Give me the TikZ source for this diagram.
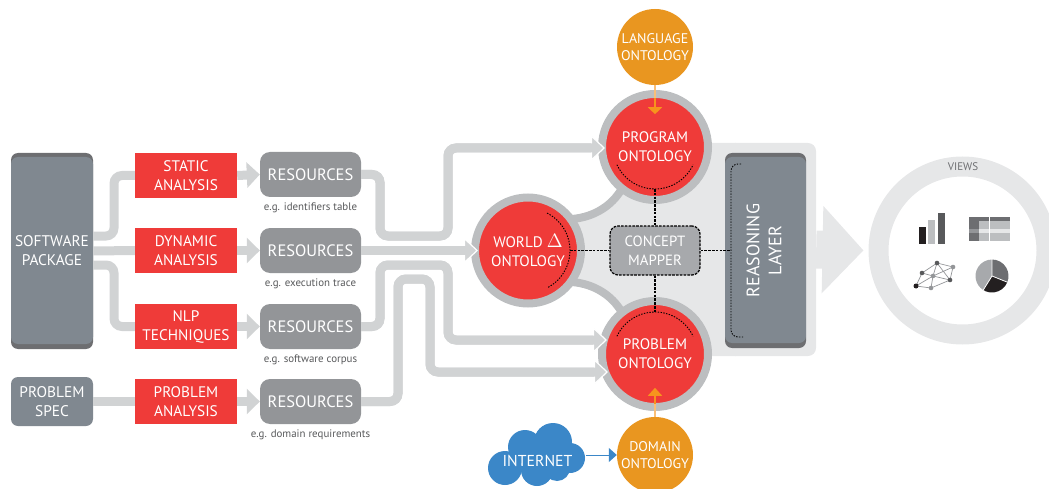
\documentclass[tikz,border=0pt]{standalone}
\usepackage{fontspec}
\setmainfont{PT Sans}
\usetikzlibrary{arrows.meta,positioning,calc}

\definecolor{redbox}{HTML}{EF3B39}
\definecolor{slate}{HTML}{808890}
\definecolor{slatedark}{HTML}{6D6E71}
\definecolor{resgray}{HTML}{939598}
\definecolor{pipegray}{HTML}{D1D3D4}
\definecolor{ringgray}{HTML}{BCBEC0}
\definecolor{palegray}{HTML}{E6E7E8}
\definecolor{mappergray}{HTML}{A7A9AC}
\definecolor{orangeball}{HTML}{E99620}
\definecolor{orangetip}{HTML}{F7941D}
\definecolor{cloudblue}{HTML}{3B87C8}
\definecolor{inkgray}{HTML}{58595B}
\definecolor{inkdark}{HTML}{231F20}

\tikzset{
    boxtext/.style={text=white, align=center, inner sep=0pt, font=\fontsize{15.3}{19}\selectfont},
    method/.style={boxtext, rectangle, fill=redbox, minimum width=102pt, minimum height=45pt},
    resource/.style={boxtext, rectangle, fill=resgray, rounded corners=10pt, minimum width=101pt, minimum height=45pt, font=\fontsize{16.5}{19}\selectfont},
    caption/.style={text=inkgray, inner sep=0pt, font=\fontsize{10.9}{12}\selectfont},
    slab/.style={boxtext, rectangle, fill=slatedark, rounded corners=7pt, inner sep=0pt,
        path picture={\fill[slate, rounded corners=7pt] ($(path picture bounding box.north west)+(0,4)$) rectangle ($(path picture bounding box.south east)+(0,-5)$);}},
    ontology/.style={boxtext, circle, fill=redbox, draw=ringgray, line width=8pt, minimum size=106pt, font=\fontsize{15.2}{19}\selectfont},
    ball/.style={boxtext, circle, fill=orangeball, minimum size=76pt, font=\fontsize{14}{16.5}\selectfont},
    pipe/.style={draw=pipegray, line width=9pt, rounded corners=8pt},
    pipearrow/.style={pipe, -{Triangle[length=14pt, width=26pt, color=white, fill=pipegray, line width=1.2pt]},
        postaction={draw=pipegray, -, shorten >=12pt}},
    smallpipe/.style={pipe, -{Triangle[length=13pt, width=25pt, color=pipegray]}},
    ringarc/.style={draw=ringgray, line width=8pt},
    tiearc/.style={draw=black, line width=0.9pt, dash pattern=on 1.4pt off 1.4pt},
    tieline/.style={draw=black, line width=1.5pt, dash pattern=on 2.6pt off 1.2pt},
}

\begin{document}
\begin{tikzpicture}[x=1pt, y=-1pt]
    \useasboundingbox (0, 0) rectangle (1049, 489);

    % pale area behind the layer
    \node[rectangle, fill=palegray, rounded corners=8pt, minimum width=161pt, minimum height=213pt, inner sep=0pt] (layerback) at (735.5, 249.5) {};
    \fill[palegray] (572, 219) .. controls (595, 217) and (612, 205) .. (621, 190) -- (layerback.north) -- (layerback.south) -- (621, 311) .. controls (612, 296) and (595, 284) .. (572, 282) -- cycle;
    \node[circle, draw=palegray, line width=20pt, minimum size=168pt, inner sep=0pt, outer sep=10pt] (views) at (962.5, 250.5) {};

    % ontologies
    \draw[ringarc] (572, 219) .. controls (595, 217) and (612, 205) .. (621, 190);
    \draw[ringarc] (572, 282) .. controls (595, 284) and (612, 296) .. (621, 311);
    \node[ontology] (program) at (655, 147) {PROGRAM\\ONTOLOGY};
    \node[ontology] (world) at (528, 250.5) {WORLD \scalebox{1.35}{\(\Delta\)}\\ONTOLOGY};
    \node[ontology] (problem) at (655, 354) {PROBLEM\\ONTOLOGY};
    \node[ball] (language) at (655, 47) {LANGUAGE\\ONTOLOGY};
    \node[ball] (domain) at (655, 455) {DOMAIN\\ONTOLOGY};

    % inputs
    \node[slab, minimum width=82pt, minimum height=196pt, font=\fontsize{15.4}{19}\selectfont] (package) at (52, 251) {SOFTWARE\\PACKAGE};
    \node[boxtext, rectangle, fill=slate, rounded corners=7pt, minimum width=82pt, minimum height=49pt, font=\fontsize{15.4}{19}\selectfont] (spec) at (52, 401.5) {PROBLEM\\SPEC};

    \node[method] (static) at (186, 175.5) {STATIC\\ANALYSIS};
    \node[method] (dynamic) at (186, 250.5) {DYNAMIC\\ANALYSIS};
    \node[method] (nlp) at (186, 326.5) {NLP\\TECHNIQUES};
    \node[method] (analysis) at (186, 401.5) {PROBLEM\\ANALYSIS};

    \node[resource] (res1) at (310.5, 174.5) {RESOURCES};
    \node[resource] (res2) at (310.5, 250.5) {RESOURCES};
    \node[resource] (res3) at (310.5, 326.5) {RESOURCES};
    \node[resource] (res4) at (310.5, 401.5) {RESOURCES};

    \node[caption] (cap1) at (310.5, 207.5) {e.g. identifiers table};
    \node[caption] (cap2) at (310.5, 283.5) {e.g. execution trace};
    \node[caption] (cap3) at (310.5, 359.5) {e.g. software corpus};
    \node[caption] (cap4) at (310.5, 434.5) {e.g. domain requirements};

    % pipes
    \draw[pipe] ($(package.east)+(0,-15)$) -- (114, 236) -- (114, 175.5) -- (static.west);
    \draw[pipe] (package.east) -- (dynamic.west);
    \draw[pipe] ($(package.east)+(0,14)$) -- (114, 265) -- (114, 326.5) -- (nlp.west);
    \draw[pipe] (spec.east) -- (analysis.west);

    \draw[smallpipe] (static.east) -- (res1.west);
    \draw[smallpipe] (dynamic.east) -- (res2.west);
    \draw[smallpipe] (nlp.east) -- (res3.west);
    \draw[smallpipe] (analysis.east) -- (res4.west);

    \draw[pipearrow] (res1.east) -- (380, 174.5) -- (380, 236) -- (448, 236) -- (448, 148) -- ($(program.west)+(7,1)$);
    \draw[pipearrow] (res2.east) -- ($(world.west)+(7,0)$);
    \draw[pipearrow] (res3.east) -- (380, 326.5) -- (380, 265) -- (448, 265) -- (448, 340) -- ($(problem.west)+(9,-14)$);
    \draw[pipearrow] (res4.east) -- (398, 401.5) -- (398, 279) -- (430, 279) -- (430, 372) -- ($(problem.west)+(10,18)$);

    % middle
    \node[boxtext, rectangle, fill=mappergray, draw=black, tieline, line width=1.2pt, rounded corners=8pt, minimum width=90pt, minimum height=49pt, font=\fontsize{14.8}{18.5}\selectfont] (mapper) at (655, 250.5) {CONCEPT\\MAPPER};
    \node[slab, minimum width=81pt, minimum height=195pt] (reasoning) at (765.5, 250.5) {};
    \node[boxtext, rotate=90, font=\fontsize{18}{22}\selectfont] (reasoninglabel) at (764, 250.5) {REASONING\\LAYER};

    \draw[tiearc] ($(program)+(155:42)$) arc[start angle=155, end angle=25, radius=42];
    \draw[tiearc] ($(problem)+(-155:42)$) arc[start angle=-155, end angle=-25, radius=42];
    \draw[tiearc] ($(world)+(-63:42)$) arc[start angle=-63, end angle=63, radius=42];
    \draw[tiearc, rounded corners=7pt] (741, 164) -- (731, 164) -- (731, 337) -- (743, 337);
    \draw[tieline] ($(program)+(0,42)$) -- (mapper.north);
    \draw[tieline] (mapper.south) -- ($(problem)+(0,-42)$);
    \draw[tieline] ($(world)+(42,0)$) -- (mapper.west);
    \draw[tieline] (mapper.east) -- (731, 250.5);

    % orange and blue
    \draw[orangetip!60, line width=1.8pt] (language.south) -- ($(language.south)+(0,14)$);
    \draw[orangetip, line width=1.8pt, -{Triangle[length=7pt, width=14pt]}] ($(language.south)+(0,13)$) -- ($(language.south)+(0,29)$);
    \draw[orangetip!60, line width=1.8pt] (domain.north) -- ($(domain.north)+(0,-14)$);
    \draw[orangetip, line width=1.8pt, -{Triangle[length=8pt, width=14pt]}] ($(domain.north)+(0,-13)$) -- ($(domain.north)+(0,-29)$);

    \fill[cloudblue] (505, 468) circle[radius=17];
    \fill[cloudblue] (525, 447) circle[radius=17];
    \fill[cloudblue] (553, 442) circle[radius=19];
    \fill[cloudblue] (570, 458) circle[radius=15];
    \fill[cloudblue] (537, 470) circle[radius=16];
    \fill[cloudblue] (557, 468) circle[radius=13];
    \node[text=white, inner sep=0pt, minimum width=97pt, font=\fontsize{15.8}{19}\selectfont] (internet) at (537.5, 461) {INTERNET};
    \draw[cloudblue, line width=1pt, -{Triangle[length=8pt, width=14pt]}] ($(internet.east)+(0,-6)$) -- (domain.west);

    % views
    \draw[draw=palegray, line width=38pt, -{Triangle[length=41pt, width=85pt, color=palegray]}, shorten >=5pt] (layerback.east) -- (views.west);
    \node[text=slatedark, inner sep=0pt, font=\fontsize{11}{12}\selectfont] (viewstext) at (963, 167) {VIEWS};

    \fill[inkdark] (919, 227) rectangle (926, 244);
    \fill[ringgray] (928, 220) rectangle (935, 244);
    \fill[inkgray] (938, 213) rectangle (945, 244);

    \fill[ringgray] (969, 217) rectangle (1010, 241);
    \fill[slatedark] (969, 217) rectangle (1010, 221);
    \fill[slatedark] (969, 217) rectangle (979, 241);
    \fill[palegray] (979, 229) rectangle (1010, 233);
    \fill[resgray] (969, 229) rectangle (979, 233);
    \draw[white, line width=0.8pt] (989, 217) -- (989, 241);

    \coordinate (piecenter) at (992, 276);
    \fill[mappergray] (piecenter) -- ($(piecenter)+(122:16.5)$) arc[start angle=122, end angle=270, radius=16.5] -- cycle;
    \fill[inkdark] (piecenter) -- ($(piecenter)+(22:16.5)$) arc[start angle=22, end angle=122, radius=16.5] -- cycle;
    \fill[slatedark] (piecenter) -- ($(piecenter)+(-90:16.5)$) arc[start angle=-90, end angle=22, radius=16.5] -- cycle;
    \draw[white, line width=0.8pt] ($(piecenter)+(-90:17)$) -- (piecenter) -- ($(piecenter)+(22:17)$);
    \draw[white, line width=0.8pt] (piecenter) -- ($(piecenter)+(122:17)$);

    \coordinate (dot1) at (916, 286);
    \coordinate (dot2) at (931, 288);
    \coordinate (dot3) at (950, 280);
    \coordinate (dot4) at (953, 267);
    \coordinate (dot5) at (937, 263);
    \coordinate (dot6) at (922, 273);
    \coordinate (dot7) at (933, 276);
    \draw[resgray, line width=0.7pt] (dot1) -- (dot2) -- (dot3) -- (dot4) -- (dot5) -- (dot6) -- (dot1) -- (dot7) -- (dot3) -- (dot5) -- (dot7) -- (dot4);
    \draw[resgray, line width=0.7pt] (dot6) -- (dot7) -- (dot2);
    \fill[inkdark] (dot1) circle[radius=2.5];
    \fill[resgray] (dot2) circle[radius=2.3];
    \fill[inkgray] (dot3) circle[radius=2.3];
    \fill[resgray] (dot4) circle[radius=2.3];
    \fill[inkgray] (dot5) circle[radius=2.3];
    \fill[inkgray] (dot6) circle[radius=2.3];
    \fill[resgray] (dot7) circle[radius=2.3];
\end{tikzpicture}
\end{document}
